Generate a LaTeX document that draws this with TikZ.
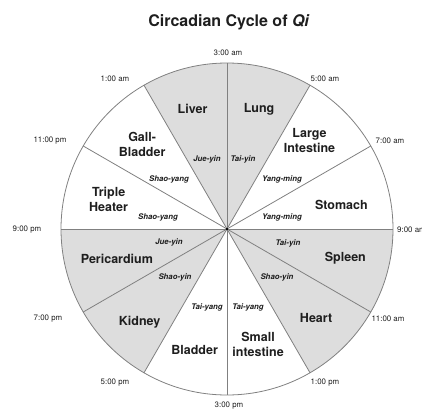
\documentclass[tikz,border=0pt]{standalone}
\usepackage{fontspec}
\setmainfont{TeX Gyre Heros}
\usepackage{tikz}
\definecolor{qigray}{RGB}{221, 221, 221}
\definecolor{qiline}{RGB}{128, 128, 128}
\definecolor{qiink}{RGB}{30, 30, 30}

\begin{document}
\begin{tikzpicture}[x=1pt, y=1pt,
    organ/.style={font=\bfseries\fontsize{12.5}{15}\selectfont, text=qiink, align=center, inner sep=0pt},
    channel/.style={font=\bfseries\itshape\fontsize{7.8}{9}\selectfont, text=qiink, inner sep=0pt},
    hour/.style={font=\fontsize{7.9}{9}\selectfont, text=qiink, inner sep=0pt}]
\useasboundingbox (-227,-181) rectangle (195,229);
\coordinate (hub) at (0,0);
\node[font=\bfseries\fontsize{16}{19}\selectfont, text=qiink] (title) at (2,207) {Circadian Cycle of \textit{Qi}};
% shaded sectors
\foreach \a in {60, 90, 180, 210, -60, -30} {
    \fill[qigray] (hub) -- (\a:166) arc (\a:\a+30:166) -- cycle;
}
\foreach \a in {0, 30, ..., 330} {
    \draw[qiline, line width=0.8pt] (hub) -- (\a:166);
}
\draw[qiline, line width=0.8pt] (hub) circle (166);
\fill[black] (hub) circle (1.4);
% organs
\foreach \pos/\name/\txt in {106:125/liver/Liver, 75:124/lung/Lung, 47:121/colon/{Large\\Intestine},
    135:120/gall/{Gall-\\Bladder}, 166:122/heater/{Triple\\Heater}, 12:117/stomach/Stomach,
    195:114/peri/Pericardium, -14:122/spleen/Spleen, 227:128/kidney/Kidney,
    -45:126/heart/Heart, 255:125/bladder/Bladder, 285:120/small/{Small\\intestine}} {
    \node[organ] (\name) at (\pos) {\txt};
}
% channels
\foreach \x/\y/\name/\txt in {-20/70/jueA/Jue-yin, 16/70/taiyinA/Tai-yin, -58/50/shaoyangA/Shao-yang,
    -69/12/shaoyangB/Shao-yang, 55/50/yangmingA/Yang-ming, 55/12/yangmingB/Yang-ming,
    -58/-13/jueB/Jue-yin, 61/-14/taiyinB/Tai-yin, -52/-48/shaoyinA/Shao-yin,
    50/-48/shaoyinB/Shao-yin, -20/-78/taiyangA/Tai-yang, 21/-78/taiyangB/Tai-yang} {
    \node[channel] (\name) at (\x,\y) {\txt};
}
% hours
\foreach \x/\y/\name/\txt in {1/176/hIIIam/3:00 am, 98/150/hVam/5:00 am, -112/150/hIam/1:00 am,
    163/88/hVIIam/7:00 am, -177/88/hXIpm/11:00 pm, -200/-1/hIXpm/9:00 pm,
    161/-90/hXIam/11:00 am, -179/-90/hVIIpm/7:00 pm, 98/-154/hIpm/1:00 pm,
    -112/-154/hVpm/5:00 pm, 2/-177/hIIIpm/3:00 pm} {
    \node[hour] (\name) at (\x,\y) {\txt};
}
\node[hour, anchor=west] (hIXam) at (170,-1) {9:00 am};
\end{tikzpicture}
\end{document}
